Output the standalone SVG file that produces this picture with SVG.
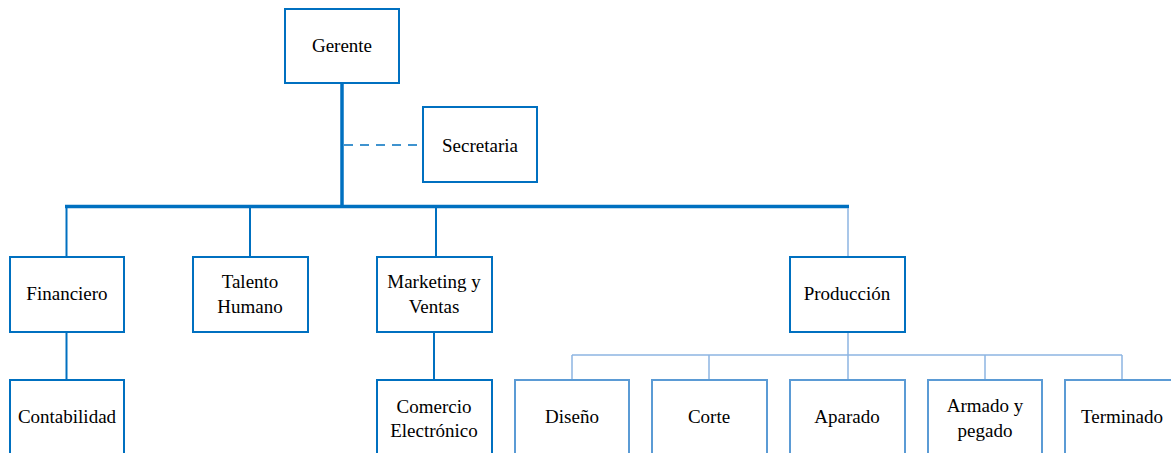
<svg xmlns="http://www.w3.org/2000/svg" width="1171" height="453" viewBox="0 0 1171 453">
<style>
.box{fill:#fff;stroke:#0070C0;stroke-width:2}
.lbox{fill:#fff;stroke:#5B9BD5;stroke-width:2}
text{font-family:'Liberation Serif','DejaVu Serif',Tinos,serif;font-size:19px;fill:#000;text-anchor:middle}
.main{stroke:#0070C0;fill:none}
.light{stroke:#8DB4E2;fill:none;stroke-width:1.5}
</style>
<rect width="1171" height="453" fill="#fff"/>
<g id="connectors">
<line class="main" x1="342" y1="83" x2="342" y2="207" stroke-width="3.5"/>
<line class="main" x1="344" y1="145" x2="423" y2="145" stroke-width="1.5" stroke-dasharray="9,7"/>
<line class="main" x1="65" y1="206.5" x2="849" y2="206.5" stroke-width="3.5"/>
<line class="main" x1="66.5" y1="206" x2="66.5" y2="257" stroke-width="2"/>
<line class="main" x1="250" y1="206" x2="250" y2="257" stroke-width="2"/>
<line class="main" x1="436" y1="206" x2="436" y2="257" stroke-width="2"/>
<line class="light" x1="848" y1="208" x2="848" y2="257"/>
<line class="main" x1="66.5" y1="332" x2="66.5" y2="380" stroke-width="2"/>
<line class="main" x1="434" y1="332" x2="434" y2="380" stroke-width="2"/>
<line class="light" x1="848" y1="332" x2="848" y2="380"/>
<line class="light" x1="572" y1="355" x2="1122" y2="355" stroke="#5B9BD5"/>
<line class="light" x1="572" y1="355" x2="572" y2="380"/>
<line class="light" x1="709" y1="355" x2="709" y2="380"/>
<line class="light" x1="985" y1="355" x2="985" y2="380"/>
<line class="light" x1="1122" y1="355" x2="1122" y2="380"/>
</g>
<g id="gerente"><rect class="box" x="285" y="9" width="114" height="74"/><text x="342" y="52" font-family="Liberation Serif">Gerente</text></g>
<g id="secretaria"><rect class="box" x="423" y="107" width="114" height="75"/><text x="480" y="152" font-family="Liberation Serif">Secretaria</text></g>
<g id="financiero"><rect class="box" x="10" y="257" width="114" height="75"/><text x="67" y="300">Financiero</text></g>
<g id="talento"><rect class="box" x="193" y="257" width="115" height="75"/><text x="250" y="288">Talento</text><text x="250" y="313">Humano</text></g>
<g id="marketing"><rect class="box" x="377" y="257" width="115" height="75"/><text x="434" y="288">Marketing y</text><text x="434" y="313">Ventas</text></g>
<g id="produccion"><rect class="box" x="790" y="257" width="115" height="75"/><text x="847" y="300">Producción</text></g>
<g id="contabilidad"><rect class="box" x="10" y="380" width="114" height="80"/><text x="67" y="423">Contabilidad</text></g>
<g id="comercio"><rect class="box" x="377" y="380" width="115" height="80"/><text x="434" y="413">Comercio</text><text x="434" y="437">Electrónico</text></g>
<g id="diseno"><rect class="lbox" x="515" y="380" width="114" height="80"/><text x="572" y="423">Diseño</text></g>
<g id="corte"><rect class="lbox" x="652" y="380" width="115" height="80"/><text x="709" y="423">Corte</text></g>
<g id="aparado"><rect class="lbox" x="790" y="380" width="115" height="80"/><text x="847" y="423">Aparado</text></g>
<g id="armado"><rect class="lbox" x="928" y="380" width="114" height="80"/><text x="985" y="412">Armado y</text><text x="985" y="437">pegado</text></g>
<g id="terminado"><rect class="lbox" x="1065" y="380" width="114" height="80"/><text x="1122" y="423">Terminado</text></g>
</svg>
